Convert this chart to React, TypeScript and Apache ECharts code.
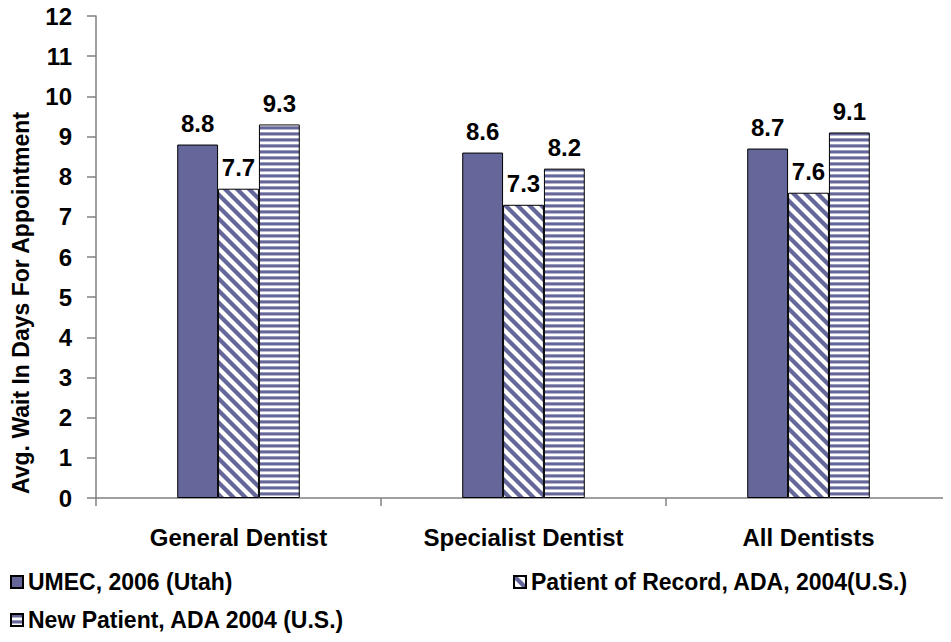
import React, { useEffect, useRef } from "react";
import * as echarts from "echarts";

const categories = ["General Dentist", "Specialist Dentist", "All Dentists"];
const seriesNames = [
  "UMEC, 2006 (Utah)",
  "Patient of Record, ADA, 2004(U.S.)",
  "New Patient, ADA 2004 (U.S.)",
];
const umecValues = [8.8, 8.6, 8.7];
const recordValues = [7.7, 7.3, 7.6];
const newPatientValues = [9.3, 8.2, 9.1];
const yTicks = { min: 0, max: 12, interval: 1 };
const yAxisTitle = "Avg. Wait In Days For Appointment";

const PURPLE = "#65669A";
const FONT = "Liberation Sans, Arial, sans-serif";

function diagonalPattern() {
  const c = document.createElement("canvas");
  c.width = 12;
  c.height = 12;
  const ctx = c.getContext("2d")!;
  ctx.fillStyle = "#ffffff";
  ctx.fillRect(0, 0, 12, 12);
  ctx.strokeStyle = PURPLE;
  ctx.lineWidth = 4.2;
  for (const off of [-12, 0, 12]) {
    ctx.beginPath();
    ctx.moveTo(off - 3, -3);
    ctx.lineTo(off + 15, 15);
    ctx.stroke();
  }
  return { image: c.toDataURL(), repeat: "repeat", imageWidth: 12, imageHeight: 12 };
}

function horizontalPattern() {
  const c = document.createElement("canvas");
  c.width = 6;
  c.height = 6;
  const ctx = c.getContext("2d")!;
  const rows = ["#9a9abd", PURPLE, PURPLE, "#b4b4cf", "#ffffff", "#ffffff"];
  rows.forEach((col, i) => {
    ctx.fillStyle = col;
    ctx.fillRect(0, i, 6, 1);
  });
  return { image: c.toDataURL(), repeat: "repeat", imageWidth: 6, imageHeight: 6 };
}

export default function App() {
  const ref = useRef<HTMLDivElement>(null);
  useEffect(() => {
    if (!ref.current) return;
    const chart = echarts.init(ref.current, undefined, { renderer: "svg" });
    const labelCfg = {
      show: true,
      position: "top",
      distance: 9,
      color: "#000",
      fontFamily: FONT,
      fontWeight: "bold",
      fontSize: 24,
    };
    const border = { borderColor: "#000", borderWidth: 1 };
    const legendText = { color: "#000", fontFamily: FONT, fontWeight: "bold", fontSize: 23, lineHeight: 24 };
    const legendBase = {
      orient: "horizontal",
      icon: "rect",
      itemWidth: 12,
      itemHeight: 12,
      itemGap: 6,
      textStyle: legendText,
      selectedMode: false,
    };
    chart.setOption({
      animation: false,
      backgroundColor: "#fff",
      grid: { left: 96, top: 16, width: 858, height: 482, containLabel: false },
      xAxis: {
        type: "category",
        data: categories,
        axisLine: { lineStyle: { color: "#808080", width: 1.5 } },
        axisTick: { show: true, alignWithLabel: false, length: 8, lineStyle: { color: "#808080", width: 1.5 } },
        axisLabel: { color: "#000", fontFamily: FONT, fontWeight: "bold", fontSize: 24, margin: 27 },
      },
      yAxis: {
        type: "value",
        min: yTicks.min,
        max: yTicks.max,
        interval: yTicks.interval,
        axisLine: { show: true, lineStyle: { color: "#808080", width: 1.5 } },
        axisTick: { show: true, length: 9, lineStyle: { color: "#808080", width: 1.5 } },
        splitLine: { show: false },
        axisLabel: { color: "#000", fontFamily: FONT, fontWeight: "bold", fontSize: 24, margin: 24 },
      },
      legend: [
        { ...legendBase, left: 5, top: 565, data: [seriesNames[0]] },
        { ...legendBase, left: 508, top: 565, data: [seriesNames[1]] },
        { ...legendBase, left: 5, top: 603, data: [seriesNames[2]] },
      ],
      graphic: [
        {
          type: "text",
          x: 21,
          y: 494,
          rotation: Math.PI / 2,
          style: {
            text: yAxisTitle,
            fill: "#000",
            font: `bold 23px ${FONT}`,
            textAlign: "left",
            textVerticalAlign: "middle",
          },
        },
      ],
      series: [
        {
          name: seriesNames[0],
          type: "bar",
          data: umecValues,
          barGap: "0%",
          barCategoryGap: "57%",
          itemStyle: { color: PURPLE, ...border },
          label: labelCfg,
        },
        {
          name: seriesNames[1],
          type: "bar",
          data: recordValues,
          barGap: "0%",
          barCategoryGap: "57%",
          itemStyle: { color: diagonalPattern(), ...border },
          label: labelCfg,
        },
        {
          name: seriesNames[2],
          type: "bar",
          data: newPatientValues,
          barGap: "0%",
          barCategoryGap: "57%",
          itemStyle: { color: horizontalPattern(), ...border },
          label: labelCfg,
        },
      ],
    });
    return () => chart.dispose();
  }, []);
  return <div ref={ref} style={{ width: 951, height: 642, margin: -8 }} />;
}
